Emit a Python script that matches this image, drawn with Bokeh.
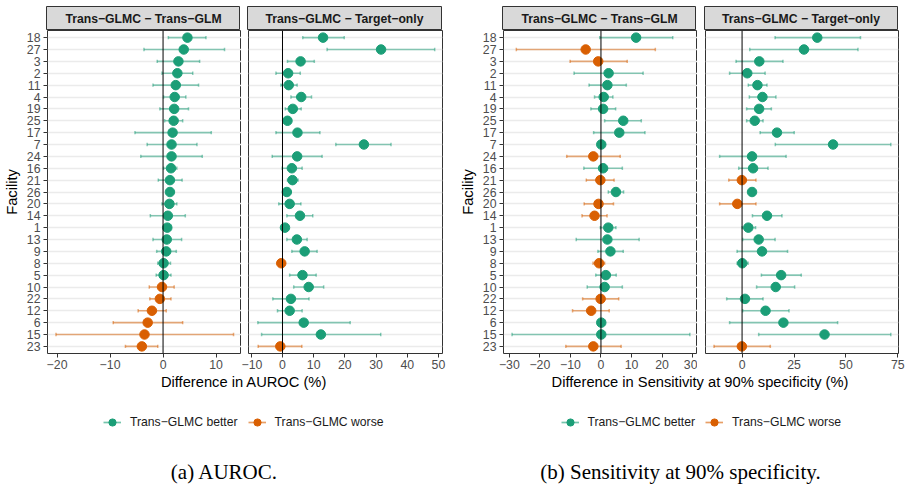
from bokeh.plotting import figure
from bokeh.layouts import column, row
from bokeh.models import Range1d, FixedTicker, Legend, LegendItem, ColumnDataSource, Span
from bokeh.embed import file_html
from bokeh.resources import INLINE
from bokeh.core.properties import value

facilities = ["18", "27", "3", "2", "11", "4", "19", "25", "17", "7", "24", "16", "21", "26",
              "20", "14", "1", "13", "9", "8", "5", "10", "22", "12", "6", "15", "23"]

# (a) AUROC: Trans-GLMC - Trans-GLM
auc_glm_est = [4.6, 3.9, 2.9, 2.7, 2.4, 2.2, 2.1, 2.0, 1.8, 1.6, 1.6, 1.5, 1.3, 1.3, 1.2, 0.9, 0.8, 0.7, 0.6, 0.1, 0.1, -0.2, -0.6, -2.1, -2.9, -3.5, -4.0]
auc_glm_lo = [1.0, -3.6, -1.1, -0.2, -1.9, 0.1, -0.6, 0.3, -5.3, -3.0, -4.2, 0.1, -0.9, 0.9, -0.2, -2.4, 0.3, -1.9, -1.2, -1.0, -1.3, -2.6, -2.5, -4.7, -9.4, -20.2, -7.1]
auc_glm_hi = [8.1, 11.6, 6.9, 5.6, 6.7, 4.3, 4.8, 3.7, 9.1, 6.4, 7.4, 2.6, 3.6, 1.7, 2.6, 4.2, 1.3, 3.5, 2.5, 1.4, 1.5, 2.1, 1.5, 0.6, 3.7, 13.3, -1.0]

# (a) AUROC: Trans-GLMC - Target-only
auc_tgt_est = [13.0, 31.6, 5.8, 1.8, 2.0, 6.0, 3.3, 1.6, 4.8, 26.1, 4.7, 3.0, 3.2, 1.4, 2.3, 5.6, 0.8, 4.6, 7.1, -0.4, 6.4, 8.4, 2.7, 2.3, 6.8, 12.3, -0.7]
auc_tgt_lo = [6.5, 14.3, 1.6, -2.1, -0.5, 2.7, 0.9, 0.5, -2.1, 17.1, -3.3, -0.1, 1.6, 0.6, -1.2, 1.4, 0.2, 1.4, 3.0, -1.0, 2.3, 3.6, -3.1, -1.6, -7.9, -6.7, -7.8]
auc_tgt_hi = [19.8, 48.8, 10.2, 5.7, 4.7, 9.3, 6.0, 2.7, 12.0, 34.8, 12.7, 6.3, 5.0, 2.2, 5.9, 9.7, 1.4, 7.9, 11.1, 0.2, 10.8, 13.2, 8.5, 6.3, 21.7, 31.5, 6.2]

# (b) Sensitivity at 90% specificity: Trans-GLMC - Trans-GLM
sens_glm_est = [11.5, -5.0, -0.9, 2.5, 2.1, 0.9, 0.7, 7.3, 6.0, 0.1, -2.5, 0.7, -0.2, 4.9, -0.8, -2.1, 2.4, 2.1, 3.1, -0.6, 1.6, 1.2, -0.1, -3.2, 0.1, 0.1, -2.5]
sens_glm_lo = [-0.4, -27.7, -10.1, -8.8, -3.9, -2.1, -3.3, 1.2, -2.4, -0.5, -11.2, -5.6, -4.8, 2.4, -5.5, -6.2, -0.2, -8.1, -1.0, -2.6, -1.7, -4.5, -6.0, -9.3, -0.5, -29.1, -11.5]
sens_glm_hi = [23.5, 17.8, 8.6, 13.8, 8.3, 3.9, 4.8, 13.2, 14.4, 0.7, 6.3, 7.0, 4.3, 7.4, 4.1, 2.0, 4.9, 12.5, 7.3, 1.2, 5.0, 7.0, 5.8, 2.7, 0.7, 29.1, 6.6]

# (b) Sensitivity at 90% specificity: Trans-GLMC - Target-only
sens_tgt_est = [36.2, 29.8, 8.3, 2.5, 7.4, 9.8, 8.2, 6.1, 16.8, 43.8, 4.8, 5.3, -0.1, 4.8, -2.3, 12.0, 3.0, 8.0, 9.6, 0.1, 18.8, 16.2, 1.4, 11.3, 19.9, 39.7, -0.1]
sens_tgt_lo = [15.9, 3.7, -2.9, -6.0, 3.0, 3.5, 2.2, 2.2, 8.7, 16.0, -10.8, -1.6, -6.4, 4.0, -10.8, 5.0, 0.0, 0.3, -2.4, -2.4, 9.3, 7.0, -7.4, 0.3, -6.0, 8.0, -13.5]
sens_tgt_hi = [57.0, 55.8, 19.7, 11.1, 12.0, 16.3, 14.1, 10.1, 25.1, 71.6, 21.2, 12.5, 6.7, 5.6, 6.7, 19.2, 6.5, 15.9, 21.9, 2.9, 28.5, 25.3, 10.1, 22.6, 46.0, 71.6, 13.6]

strip_labels = ["Trans\u2212GLMC \u2212 Trans\u2212GLM", "Trans\u2212GLMC \u2212 Target\u2212only"]
legend_labels = ["Trans\u2212GLMC better", "Trans\u2212GLMC worse"]
xaxis_titles = ["Difference in AUROC (%)", "Difference in Sensitivity at 90% specificity (%)"]
captions = ["(a) AUROC.", "(b) Sensitivity at 90% specificity."]

GREEN = "#1b9e77"
ORANGE = "#d95f02"
SANS = "Liberation Sans"
SERIF = "Liberation Serif"


def fmt(t):
    return ("\u2212" + str(abs(t))) if t < 0 else str(t)


def make_strip(label, left, right, fw):
    s = figure(frame_width=fw, frame_height=24, min_border_left=left, min_border_right=right,
               min_border_top=6, min_border_bottom=0, x_range=Range1d(0, 1), y_range=Range1d(0, 1),
               toolbar_location=None, output_backend="svg")
    s.axis.visible = False
    s.grid.visible = False
    s.background_fill_color = "#d9d9d9"
    s.border_fill_color = "white"
    s.outline_line_color = "#333333"
    s.outline_line_width = 1
    s.text(x=[0.5], y=[0.5], text=[label], text_align="center", text_baseline="middle",
           text_font=value(SANS), text_font_style="bold", text_font_size="12.2px", text_color="#1a1a1a")
    return s


def make_panel(est, lo, hi, xr, ticks, left, right, fw, show_y):
    n = len(facilities)
    ys = [n - 1 - i for i in range(n)]
    colors = [GREEN if e > 0 else ORANGE for e in est]
    src = ColumnDataSource(dict(y=ys, est=est, lo=lo, hi=hi, color=colors,
                                yb=[y - 0.14 for y in ys], yt=[y + 0.14 for y in ys]))
    p = figure(frame_width=fw, frame_height=323, min_border_left=left, min_border_right=right,
               min_border_top=0, min_border_bottom=21, x_range=Range1d(*xr), y_range=Range1d(-0.6, n - 0.4),
               toolbar_location=None, output_backend="svg")
    p.background_fill_color = "white"
    p.border_fill_color = "white"
    p.outline_line_color = "#333333"
    p.outline_line_width = 1
    p.xgrid.visible = False
    p.ygrid.ticker = FixedTicker(ticks=ys)
    p.ygrid.grid_line_color = "#ebebeb"
    p.ygrid.grid_line_width = 1.5

    p.xaxis.ticker = FixedTicker(ticks=ticks)
    p.xaxis.major_label_overrides = {t: fmt(t) for t in ticks}
    p.yaxis.ticker = FixedTicker(ticks=ys)
    p.yaxis.major_label_overrides = {y: f for y, f in zip(ys, facilities)}
    for ax in (p.xaxis, p.yaxis):
        ax.axis_line_color = None
        ax.major_tick_line_color = "#333333"
        ax.major_tick_out = 4
        ax.major_tick_in = 0
        ax.minor_tick_line_color = None
        ax.major_label_text_font = SANS
        ax.major_label_text_font_size = "12.3px"
        ax.major_label_text_color = "#4d4d4d"
    p.xaxis.major_label_standoff = 2
    p.yaxis.major_label_standoff = 3
    if show_y:
        p.yaxis.axis_label = "Facility"
        p.yaxis.axis_label_text_font = SANS
        p.yaxis.axis_label_text_font_size = "14.7px"
        p.yaxis.axis_label_text_font_style = "normal"
        p.yaxis.axis_label_text_color = "black"
        p.yaxis.axis_label_standoff = 4
    else:
        p.yaxis.visible = False

    p.add_layout(Span(location=0, dimension="height", line_color="black", line_width=1))
    p.segment(x0="lo", y0="y", x1="hi", y1="y", line_color="color", line_alpha=0.5, line_width=1.7, source=src)
    p.segment(x0="lo", y0="yb", x1="lo", y1="yt", line_color="color", line_alpha=0.5, line_width=1.5, source=src)
    p.segment(x0="hi", y0="yb", x1="hi", y1="yt", line_color="color", line_alpha=0.5, line_width=1.5, source=src)
    p.scatter(x="est", y="y", size=9.5, fill_color="color", line_color="color", source=src)
    return p


def make_footer(title, title_x, caption, caption_x, legend_x):
    f = figure(width=454, height=114, x_range=Range1d(0, 454), y_range=Range1d(114, 0),
               min_border=0, toolbar_location=None, output_backend="svg")
    f.axis.visible = False
    f.grid.visible = False
    f.outline_line_color = None
    f.background_fill_color = "white"
    f.border_fill_color = "white"
    f.text(x=[title_x], y=[7.7], text=[title], text_align="center", text_baseline="middle",
           text_font=value(SANS), text_font_size="14.7px", text_color="black")
    f.text(x=[caption_x], y=[97.5], text=[caption], text_align="center", text_baseline="middle",
           text_font=value(SERIF), text_font_size="21px", text_color="black")
    items = []
    for lab, col in zip(legend_labels, [GREEN, ORANGE]):
        # legend key glyphs only: placed outside the visible range
        rs = f.segment(x0=[-500], y0=[-500], x1=[-490], y1=[-500], line_color=col, line_alpha=0.6, line_width=1.7)
        rp = f.scatter(x=[-500], y=[-500], size=9, fill_color=col, line_color=col)
        items.append(LegendItem(label=lab, renderers=[rs, rp]))
    leg = Legend(items=items, orientation="horizontal", location=(legend_x, 57),
                 glyph_width=18, glyph_height=18, label_height=18, label_standoff=9, spacing=10,
                 padding=0, margin=0, border_line_color=None, background_fill_alpha=0,
                 label_text_font=SANS, label_text_font_size="12.2px", label_text_color="#1a1a1a")
    f.add_layout(leg)
    return f


# layout geometry (left border, right border, frame width)
geo = [(46, 0, 194), (7, 13, 194), (48, 0, 194), (8, 11, 193)]
data = [
    (auc_glm_est, auc_glm_lo, auc_glm_hi, (-21.8, 14.8), [-20, -10, 0, 10]),
    (auc_tgt_est, auc_tgt_lo, auc_tgt_hi, (-10.9, 51.3), [-10, 0, 10, 20, 30, 40, 50]),
    (sens_glm_est, sens_glm_lo, sens_glm_hi, (-31.9, 31.6), [-30, -20, -10, 0, 10, 20, 30]),
    (sens_tgt_est, sens_tgt_lo, sens_tgt_hi, (-17.6, 75.3), [0, 25, 50, 75]),
]

strips = []
panels = []
for i, ((l, r, fw), (e, lo, hi, xr, tk)) in enumerate(zip(geo, data)):
    strips.append(make_strip(strip_labels[i % 2], l, r, fw))
    panels.append(make_panel(e, lo, hi, xr, tk, l, r, fw, show_y=(i % 2 == 0)))

footers = [
    make_footer(xaxis_titles[0], 243.5, captions[0], 224, 103),
    make_footer(xaxis_titles[1], 245.5, captions[1], 226, 106.5),
]

layout = column(row(*strips, spacing=0), row(*panels, spacing=0), row(*footers, spacing=0), spacing=0)

open("out.html", "w").write(file_html(layout, INLINE))
